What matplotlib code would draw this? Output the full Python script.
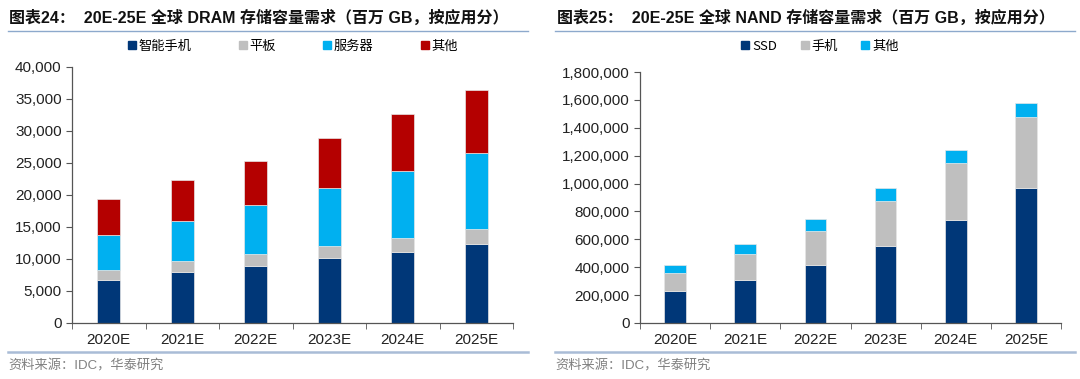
import matplotlib.pyplot as plt
import numpy as np
from matplotlib.lines import Line2D

plt.rcParams['font.family'] = ['Liberation Sans', 'Noto Sans CJK SC', 'DejaVu Sans']

years = ['2020E', '2021E', '2022E', '2023E', '2024E', '2025E']

# DRAM (百万 GB)
dram_phone = [6700, 7950, 8950, 10100, 11100, 12300]
dram_tablet = [1550, 1700, 1850, 2000, 2250, 2350]
dram_server = [5500, 6300, 7600, 9000, 10350, 11850]
dram_other = [5600, 6350, 6900, 7800, 8900, 9950]

# NAND (百万 GB)
nand_ssd = [227000, 311000, 416000, 555000, 739000, 966000]
nand_phone = [131000, 181000, 246000, 322000, 406000, 514000]
nand_other = [60000, 77000, 84000, 89000, 96000, 95000]

navy = '#003778'
gray = '#BFBFBF'
cyan = '#00B0F0'
red = '#B40000'
line_col = '#8DA9CC'
txt = '#222222'

fig = plt.figure(figsize=(10.8, 3.79), dpi=100)
W, H = 1080, 379

def axes_px(x0, x1, ytop, ybot):
    return fig.add_axes([x0 / W, 1 - ybot / H, (x1 - x0) / W, (ybot - ytop) / H])

def style(ax, ymax, step):
    x = np.arange(len(years))
    ax.set_xlim(-0.5, len(years) - 0.5)
    ax.set_ylim(0, ymax)
    ax.set_yticks(np.arange(0, ymax + 1, step))
    ax.yaxis.set_major_formatter(plt.FuncFormatter(lambda v, p: f'{int(v):,}'))
    ax.set_xticks(x)
    ax.set_xticklabels(years)
    ax.set_xticks(np.arange(-0.5, len(years)), minor=True)
    ax.tick_params(axis='x', which='major', length=0, pad=7, labelsize=11, colors=txt)
    ax.tick_params(axis='x', which='minor', length=4, color='#555555')
    ax.tick_params(axis='y', length=4, labelsize=11, colors=txt, color='#555555')
    for s in ['top', 'right']:
        ax.spines[s].set_visible(False)
    for s in ['left', 'bottom']:
        ax.spines[s].set_color('#555555')
        ax.spines[s].set_linewidth(0.9)

def legend_square(ax, labels, colors, anchor_x, spacing):
    handles = [Line2D([], [], marker='s', linestyle='none', markersize=6,
                      markerfacecolor=c, markeredgecolor=c) for c in colors]
    ax.legend(handles, labels, loc='center', bbox_to_anchor=(anchor_x / W, 1 - 46 / H),
              bbox_transform=fig.transFigure, ncol=len(labels), frameon=False,
              handlelength=0.6, handletextpad=0.2, columnspacing=spacing,
              prop={'family': ['Noto Sans CJK SC'], 'size': 9.5})

bw = 0.31
x = np.arange(len(years))

# Left: DRAM
ax1 = axes_px(72, 513, 67, 323)
b = np.zeros(len(years))
for vals, c in [(dram_phone, navy), (dram_tablet, gray), (dram_server, cyan), (dram_other, red)]:
    ax1.bar(x, vals, bw, bottom=b, color=c, edgecolor='#E6E6E6', linewidth=0.5)
    b += np.array(vals)
style(ax1, 40000, 5000)
legend_square(ax1, ['智能手机', '平板', '服务器', '其他'], [navy, gray, cyan, red], 293, 3.6)

# Right: NAND
ax2 = axes_px(640, 1061, 72, 323)
b = np.zeros(len(years))
for vals, c in [(nand_ssd, navy), (nand_phone, gray), (nand_other, cyan)]:
    ax2.bar(x, vals, bw, bottom=b, color=c, edgecolor='#E6E6E6', linewidth=0.5)
    b += np.array(vals)
style(ax2, 1800000, 200000)
legend_square(ax2, ['SSD', '手机', '其他'], [navy, gray, cyan], 820, 1.8)

# titles, rules, source
fig.text(9 / W, 1 - 18 / H, '图表24：  20E-25E 全球 DRAM 存储容量需求（百万 GB，按应用分）',
         fontsize=11.5, fontweight='bold', color='#111111', va='center', ha='left',
         family=['Liberation Sans', 'Noto Sans CJK SC'])
fig.text(557 / W, 1 - 18 / H, '图表25：  20E-25E 全球 NAND 存储容量需求（百万 GB，按应用分）',
         fontsize=11.5, fontweight='bold', color='#111111', va='center', ha='left',
         family=['Liberation Sans', 'Noto Sans CJK SC'])
for x0, x1 in [(8, 528), (555, 1075)]:
    fig.add_artist(Line2D([x0 / W, x1 / W], [1 - 31 / H] * 2, color=line_col, lw=1.0))
    fig.add_artist(Line2D([x0 / W, x1 / W], [1 - 352 / H] * 2, color='#A9BCD6', lw=1.8))
fig.text(8 / W, 1 - 366 / H, '资料来源：IDC，华泰研究', fontsize=9.5, color='#808080',
         va='center', ha='left', family=['Liberation Sans', 'Noto Sans CJK SC'])
fig.text(555 / W, 1 - 366 / H, '资料来源：IDC，华泰研究', fontsize=9.5, color='#808080',
         va='center', ha='left', family=['Liberation Sans', 'Noto Sans CJK SC'])

fig.savefig('out.png', dpi=100)
